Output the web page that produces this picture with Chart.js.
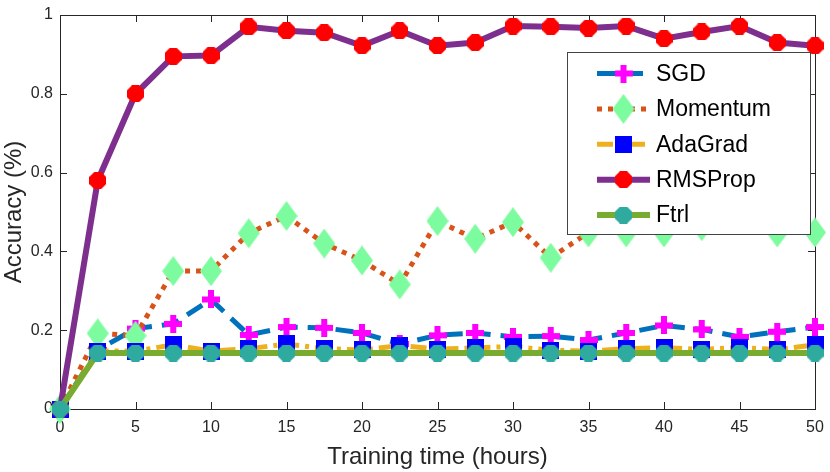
<!DOCTYPE html>
<html>
<head>
<meta charset="utf-8">
<script src="https://cdn.jsdelivr.net/npm/chart.js@4.4.1/dist/chart.umd.min.js"></script>
<style>
  html, body { margin: 0; padding: 0; background: #fff; }
  #wrap { width: 830px; height: 472px; }
</style>
</head>
<body>
<div id="wrap"><canvas id="accChart" width="830" height="472"></canvas></div>
<script>
// training time (hours) for each sample
const hours = [0, 2.5, 5, 7.5, 10, 12.5, 15, 17.5, 20, 22.5, 25, 27.5, 30, 32.5, 35, 37.5, 40, 42.5, 45, 47.5, 50];

// accuracy per optimizer
const sgd      = [0, 0.15, 0.204, 0.216, 0.278, 0.188, 0.208, 0.206, 0.193, 0.165, 0.187, 0.193, 0.183, 0.185, 0.175, 0.193, 0.212, 0.202, 0.183, 0.196, 0.208];
const momentum = [0, 0.192, 0.186, 0.35, 0.35, 0.446, 0.49, 0.42, 0.377, 0.316, 0.477, 0.432, 0.474, 0.384, 0.448, 0.448, 0.448, 0.464, 0.48, 0.448, 0.448];
const adagrad  = [0, 0.147, 0.147, 0.163, 0.147, 0.153, 0.165, 0.153, 0.15, 0.161, 0.152, 0.155, 0.159, 0.149, 0.147, 0.153, 0.156, 0.151, 0.156, 0.151, 0.163];
const rmsprop  = [0, 0.58, 0.80, 0.895, 0.897, 0.97, 0.96, 0.955, 0.922, 0.96, 0.922, 0.93, 0.972, 0.97, 0.967, 0.972, 0.94, 0.957, 0.972, 0.93, 0.922];
const ftrl     = [0, 0.142, 0.142, 0.142, 0.142, 0.142, 0.142, 0.142, 0.142, 0.142, 0.142, 0.142, 0.142, 0.142, 0.142, 0.142, 0.142, 0.142, 0.142, 0.142, 0.142];

const seriesNames = ['SGD', 'Momentum', 'AdaGrad', 'RMSProp', 'Ftrl'];
const xTickValues = [0, 5, 10, 15, 20, 25, 30, 35, 40, 45, 50];
const yTickValues = [0, 0.2, 0.4, 0.6, 0.8, 1];
const yTickLabels = ['0', '0.2', '0.4', '0.6', '0.8', '1'];

const AXIS_COLOR = '#262626';
const FONT = "'Liberation Sans', Arial, sans-serif";

// small canvases used as point styles
function makeMarker(w, h, color, draw) {
    const c = document.createElement('canvas');
    c.width = w; c.height = h;
    const ctx = c.getContext('2d');
    ctx.fillStyle = color;
    draw(ctx, w, h);
    return c;
}

function octagon(ctx, w, h) {
    const r = w / 2 / Math.cos(Math.PI / 8);
    ctx.beginPath();
    for (let k = 0; k < 8; k++) {
        const a = Math.PI / 8 + k * Math.PI / 4;
        const px = w / 2 + r * Math.cos(a), py = h / 2 + r * Math.sin(a);
        if (k === 0) ctx.moveTo(px, py); else ctx.lineTo(px, py);
    }
    ctx.closePath();
    ctx.fill();
}

const plusMark = makeMarker(18, 18, '#ff00ff', (ctx, w, h) => {
    ctx.fillRect(0, 6, w, 6);
    ctx.fillRect(6, 0, 6, h);
});
const diamondMark = makeMarker(22, 30, '#7dfc9f', (ctx, w, h) => {
    ctx.beginPath();
    ctx.moveTo(w / 2, 0);
    ctx.lineTo(w, h / 2);
    ctx.lineTo(w / 2, h);
    ctx.lineTo(0, h / 2);
    ctx.closePath();
    ctx.fill();
});
const squareMark = makeMarker(17, 17, '#0000ff', (ctx, w, h) => {
    ctx.fillRect(0, 0, w, h);
});
const redOct = makeMarker(17, 17, '#ff0000', octagon);
const tealOct = makeMarker(17, 17, '#2eab9e', octagon);

const styles = [
    { line: '#0072bd', dash: [18, 10], width: 5, point: plusMark, fill: '#ff00ff', radius: 9 },
    { line: '#d95319', dash: [5, 6], width: 5, point: diamondMark, fill: '#7dfc9f', radius: 15 },
    { line: '#edb120', dash: [16, 6, 4, 6], width: 5, point: squareMark, fill: '#0000ff', radius: 9 },
    { line: '#7e2f8e', dash: [], width: 6, point: redOct, fill: '#ff0000', radius: 9 },
    { line: '#77ac30', dash: [], width: 6, point: tealOct, fill: '#2eab9e', radius: 9 }
];

const seriesValues = [sgd, momentum, adagrad, rmsprop, ftrl];

const datasets = seriesValues.map((vals, i) => ({
    label: seriesNames[i],
    data: hours.map((h, k) => ({ x: h, y: vals[k] })),
    borderColor: styles[i].line,
    borderWidth: styles[i].width,
    borderDash: styles[i].dash,
    pointStyle: styles[i].point,
    pointRadius: styles[i].radius,
    pointHoverRadius: styles[i].radius,
    pointBackgroundColor: styles[i].fill,
    pointBorderWidth: 0,
    fill: false,
    tension: 0,
    clip: false,
    order: seriesNames.length - i   // later series drawn on top, like MATLAB
}));

// axes box with inward ticks
const boxPlugin = {
    id: 'matlabBox',
    beforeDatasetsDraw(chart) {
        const { ctx, chartArea: a, scales } = chart;
        ctx.save();
        ctx.strokeStyle = AXIS_COLOR;
        ctx.lineWidth = 1;
        ctx.strokeRect(a.left + 0.5, a.top + 0.5, a.right - a.left, a.bottom - a.top);
        const tl = 7;
        ctx.beginPath();
        xTickValues.forEach(v => {
            const px = Math.round(scales.x.getPixelForValue(v)) + 0.5;
            ctx.moveTo(px, a.bottom); ctx.lineTo(px, a.bottom - tl);
            ctx.moveTo(px, a.top); ctx.lineTo(px, a.top + tl);
        });
        yTickValues.forEach(v => {
            const py = Math.round(scales.y.getPixelForValue(v)) + 0.5;
            ctx.moveTo(a.left, py); ctx.lineTo(a.left + tl, py);
            ctx.moveTo(a.right, py); ctx.lineTo(a.right - tl, py);
        });
        ctx.stroke();
        ctx.restore();
    }
};

// legend box in the upper right of the plot
const legendPlugin = {
    id: 'innerLegend',
    afterDatasetsDraw(chart) {
        const { ctx } = chart;
        const bx = 567.5, by = 52.5, bw = 243, bh = 182;
        ctx.save();
        ctx.fillStyle = '#ffffff';
        ctx.fillRect(bx, by, bw, bh);
        ctx.strokeStyle = '#444444';
        ctx.lineWidth = 1;
        ctx.strokeRect(bx, by, bw, bh);

        seriesNames.forEach((name, i) => {
            const st = styles[i];
            const y = 73.5 + i * 35.4;
            ctx.strokeStyle = st.line;
            ctx.lineWidth = st.width;
            ctx.setLineDash(st.dash);
            ctx.beginPath();
            ctx.moveTo(597, y);
            ctx.lineTo(650, y);
            ctx.stroke();
            ctx.setLineDash([]);
            ctx.fillStyle = st.fill;
            Chart.helpers.drawPoint(ctx, { pointStyle: st.point, radius: st.radius, rotation: 0, borderWidth: 0 }, 623.5, y);
            ctx.fillStyle = '#000000';
            ctx.font = '23px ' + FONT;
            ctx.textBaseline = 'middle';
            ctx.textAlign = 'left';
            ctx.fillText(name, 656, y + 1);
        });
        ctx.restore();
    }
};

new Chart(document.getElementById('accChart'), {
    type: 'line',
    data: { datasets },
    options: {
        responsive: false,
        animation: false,
        events: [],
        layout: { padding: { top: 6, right: 14, left: 0, bottom: 0 } },
        plugins: {
            legend: { display: false },
            tooltip: { enabled: false }
        },
        scales: {
            x: {
                type: 'linear',
                min: 0,
                max: 50,
                afterBuildTicks: s => { s.ticks = xTickValues.map(v => ({ value: v })); },
                afterFit: s => { s.height = 63; s.paddingLeft = 0; s.paddingRight = 0; },
                grid: { display: false, drawTicks: false },
                border: { display: false },
                ticks: {
                    color: AXIS_COLOR,
                    font: { family: FONT, size: 16 },
                    padding: 9,
                    maxRotation: 0,
                    autoSkip: false
                },
                title: {
                    display: true,
                    text: 'Training time (hours)',
                    color: AXIS_COLOR,
                    font: { family: FONT, size: 24 },
                    padding: { top: 0, bottom: 0 }
                }
            },
            y: {
                type: 'linear',
                min: 0,
                max: 1,
                afterBuildTicks: s => { s.ticks = yTickValues.map(v => ({ value: v })); },
                afterFit: s => { s.width = 60; s.paddingTop = 0; s.paddingBottom = 0; },
                grid: { display: false, drawTicks: false },
                border: { display: false },
                ticks: {
                    color: AXIS_COLOR,
                    font: { family: FONT, size: 16 },
                    padding: 7,
                    callback: (v, i) => yTickLabels[i]
                },
                title: {
                    display: true,
                    text: 'Accuracy (%)',
                    color: AXIS_COLOR,
                    font: { family: FONT, size: 24 },
                    padding: { top: 0, bottom: 0 }
                }
            }
        }
    },
    plugins: [boxPlugin, legendPlugin]
});
</script>
</body>
</html>
